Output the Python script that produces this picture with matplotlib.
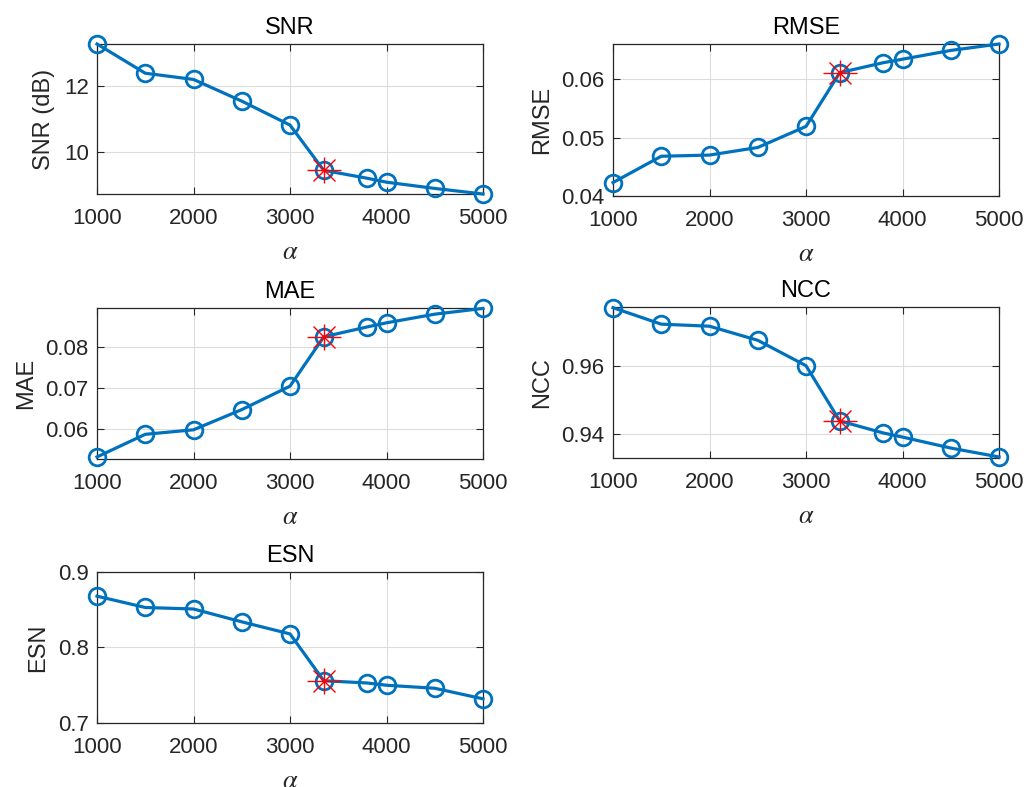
import matplotlib
matplotlib.use("agg")
import matplotlib.pyplot as plt

# alpha values swept
alpha = [1000, 1500, 2000, 2500, 3000, 3350, 3800, 4000, 4500, 5000]
best_idx = 5  # chosen alpha (red star)

snr = [13.28, 12.39, 12.20, 11.54, 10.81, 9.43, 9.19, 9.07, 8.88, 8.71]
rmse = [0.0423, 0.0468, 0.0470, 0.0483, 0.0519, 0.0611, 0.0628, 0.0634, 0.0649, 0.0660]
mae = [0.0532, 0.0587, 0.0598, 0.0647, 0.0704, 0.0824, 0.0848, 0.0858, 0.0879, 0.0893]
ncc = [0.9769, 0.9721, 0.9715, 0.9674, 0.9600, 0.9439, 0.9404, 0.9392, 0.9360, 0.9334]
esn = [0.868, 0.853, 0.851, 0.834, 0.818, 0.756, 0.753, 0.750, 0.746, 0.732]

panels = [
    ("SNR", "SNR (dB)", snr, (8.71, 13.28), [10, 12], ["10", "12"]),
    ("RMSE", "RMSE", rmse, (0.040, 0.0660), [0.04, 0.05, 0.06], ["0.04", "0.05", "0.06"]),
    ("MAE", "MAE", mae, (0.0527, 0.0894), [0.06, 0.07, 0.08], ["0.06", "0.07", "0.08"]),
    ("NCC", "NCC", ncc, (0.9331, 0.9771), [0.94, 0.96], ["0.94", "0.96"]),
    ("ESN", "ESN", esn, (0.7, 0.9), [0.7, 0.8, 0.9], ["0.7", "0.8", "0.9"]),
]
xticks = [1000, 2000, 3000, 4000, 5000]

plt.rcParams['font.family'] = ['Liberation Sans', 'DejaVu Sans']
plt.rcParams['mathtext.fontset'] = 'stix'

W, H = 1027, 787
fig = plt.figure(figsize=(W / 100, H / 100), dpi=100)

# axes boxes in pixels: left, top, right, bottom
boxes = [
    (97, 44, 483, 194),
    (613, 44, 999, 196),
    (97, 308, 483, 459),
    (613, 307, 999, 458),
    (97, 572, 483, 723),
]

blue = '#0072BD'
dark = '#262626'
for (title, ylab, vals, ylim, yt, ytl), (l, t, r, b) in zip(panels, boxes):
    ax = fig.add_axes([l / W, 1 - b / H, (r - l) / W, (b - t) / H])
    ax.plot(alpha, vals, '-o', color=blue, lw=2.3, ms=12, mfc='none', mew=2.0,
            clip_on=False, zorder=3)
    bx, by = alpha[best_idx], vals[best_idx]
    ax.plot(bx, by, '_', color='red', ms=25, mew=1.0, clip_on=False, zorder=4)
    ax.plot(bx, by, '|', color='red', ms=19, mew=1.0, clip_on=False, zorder=4)
    ax.plot(bx, by, 'x', color='red', ms=16, mew=1.0, clip_on=False, zorder=4)
    ax.set_xlim(1000, 5000)
    ax.set_ylim(*ylim)
    ax.set_xticks(xticks)
    ax.set_yticks(yt)
    ax.set_yticklabels(ytl)
    ax.grid(True, color='#dcdcdc', lw=0.8)
    ax.set_axisbelow(True)
    ax.tick_params(direction='in', top=True, right=True, labelsize=16,
                   colors=dark, length=5, width=0.8)
    ax.tick_params(axis='x', pad=10)
    ax.tick_params(axis='y', pad=6)
    for s in ax.spines.values():
        s.set_color(dark)
        s.set_linewidth(0.9)
    ax.set_title(title, fontsize=17, color='black', pad=7)
    ax.set_ylabel(ylab, fontsize=17, color=dark, labelpad=6)
    ax.set_xlabel(r'$\alpha$', fontsize=19, color=dark, labelpad=8)

fig.savefig("out.png", dpi=100, facecolor='white')
plt.close(fig)
